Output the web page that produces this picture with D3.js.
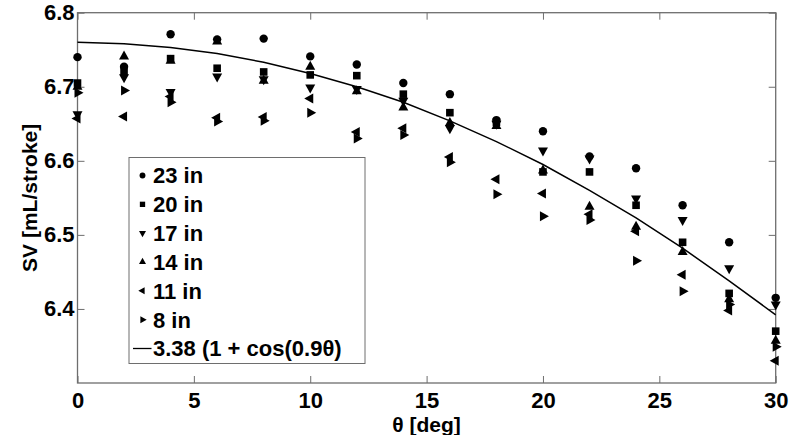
<!DOCTYPE html>
<html>
<head>
<meta charset="utf-8">
<script src="https://cdn.jsdelivr.net/npm/d3@7"></script>
<style>
body { margin: 0; background: #fff; }
text { font-family: "Liberation Sans", Arial, sans-serif; font-weight: bold; }
</style>
</head>
<body>
<div id="chart"></div>
<script>
// angles (deg)
var theta = [0, 2, 4, 6, 8, 10, 12, 14, 16, 18, 20, 22, 24, 26, 28, 30];

// stroke volume per height
var sv23 = [6.740, 6.727, 6.771, 6.764, 6.765, 6.741, 6.730, 6.705, 6.690, 6.655, 6.640, 6.606, 6.590, 6.540, 6.490, 6.415];
var sv20 = [6.705, 6.720, 6.738, 6.725, 6.720, 6.716, 6.715, 6.690, 6.665, 6.652, 6.585, 6.585, 6.540, 6.490, 6.421, 6.370];
var sv17 = [6.663, 6.713, 6.693, 6.714, 6.710, 6.699, 6.697, 6.681, 6.644, 6.650, 6.614, 6.603, 6.549, 6.520, 6.455, 6.406];
var sv14 = [6.700, 6.741, 6.735, 6.761, 6.708, 6.727, 6.694, 6.672, 6.651, 6.647, 6.587, 6.538, 6.511, 6.477, 6.413, 6.357];
var sv11 = [6.657, 6.660, 6.687, 6.658, 6.659, 6.684, 6.639, 6.644, 6.605, 6.575, 6.556, 6.528, 6.505, 6.446, 6.398, 6.330];
var sv8  = [6.692, 6.695, 6.679, 6.653, 6.654, 6.665, 6.630, 6.635, 6.598, 6.555, 6.525, 6.520, 6.465, 6.424, 6.406, 6.349];

// fit curve values at each angle
var fitVals = [6.760, 6.758, 6.753, 6.745, 6.733, 6.718, 6.700, 6.679, 6.654, 6.626, 6.595, 6.560, 6.523, 6.482, 6.438, 6.392];

var xTicks = [0, 5, 10, 15, 20, 25, 30];
var yTicks = [6.4, 6.5, 6.6, 6.7, 6.8];

var seriesNames = ["23 in", "20 in", "17 in", "14 in", "11 in", "8 in"];
var seriesVals = [sv23, sv20, sv17, sv14, sv11, sv8];
var fitLabel = "3.38 (1 + cos(0.9\u03b8)";

var W = 800, H = 435;
var margin = {top: 12.7, right: 24.3, bottom: 52, left: 77.5};
var width = W - margin.left - margin.right,
	height = H - margin.top - margin.bottom;

var svg = d3.select("#chart").append("svg")
	.attr("width", W)
	.attr("height", H);

var g = svg.append("g")
	.attr("transform", "translate(" + margin.left + "," + margin.top + ")");

var x = d3.scaleLinear().domain([0, 30]).range([0, width]);
var y = d3.scaleLinear().domain([6.3, 6.8]).range([height, 0]);

var axisColor = "#6e6e6e";
var fontSize = "22px";

// box
g.append("rect")
	.attr("width", width)
	.attr("height", height)
	.attr("fill", "none")
	.attr("stroke", axisColor)
	.attr("stroke-width", 1.3);

function styleAxis(sel, showText) {
	sel.select(".domain").remove();
	sel.selectAll(".tick line").attr("stroke", axisColor).attr("stroke-width", 1);
	sel.selectAll(".tick text")
		.attr("fill", "#000")
		.style("font-size", fontSize)
		.style("display", showText ? null : "none");
}

g.append("g")
	.attr("transform", "translate(0," + height + ")")
	.call(d3.axisBottom(x).tickValues(xTicks).tickSizeInner(-7).tickSizeOuter(0).tickPadding(9).tickFormat(d3.format("d")))
	.call(styleAxis, true);

g.append("g")
	.call(d3.axisTop(x).tickValues(xTicks).tickSizeInner(-7).tickSizeOuter(0))
	.call(styleAxis, false);

g.append("g")
	.call(d3.axisLeft(y).tickValues(yTicks).tickSizeInner(-7).tickSizeOuter(0).tickPadding(3).tickFormat(d3.format(".1f")))
	.call(styleAxis, true);

g.append("g")
	.attr("transform", "translate(" + width + ",0)")
	.call(d3.axisRight(y).tickValues(yTicks).tickSizeInner(-7).tickSizeOuter(0))
	.call(styleAxis, false);

// axis titles
svg.append("text")
	.attr("x", margin.left + width / 2)
	.attr("y", 432)
	.attr("text-anchor", "middle")
	.style("font-size", "21px")
	.text("\u03b8 [deg]");

svg.append("text")
	.attr("transform", "translate(37," + (margin.top + height / 2) + ") rotate(-90)")
	.attr("text-anchor", "middle")
	.style("font-size", "21px")
	.text("SV [mL/stroke]");

// marker shapes: circle, square, down, up, left, right
function markerPath(i, s) {
	var p = d3.path();
	var h = s * 0.9;
	if (i == 0) {
		p.arc(0, 0, s * 0.42, 0, 2 * Math.PI);
	} else if (i == 1) {
		var a = s * 0.38;
		p.rect(-a, -a, 2 * a, 2 * a);
	} else if (i == 2) {
		p.moveTo(-s / 2, -h / 3); p.lineTo(s / 2, -h / 3); p.lineTo(0, 2 * h / 3); p.closePath();
	} else if (i == 3) {
		p.moveTo(-s / 2, h / 3); p.lineTo(s / 2, h / 3); p.lineTo(0, -2 * h / 3); p.closePath();
	} else if (i == 4) {
		p.moveTo(h / 3, -s / 2); p.lineTo(h / 3, s / 2); p.lineTo(-2 * h / 3, 0); p.closePath();
	} else {
		p.moveTo(-h / 3, -s / 2); p.lineTo(-h / 3, s / 2); p.lineTo(2 * h / 3, 0); p.closePath();
	}
	return p.toString();
}

seriesVals.forEach(function(vals, i) {
	g.append("g").selectAll("path")
		.data(theta)
		.enter().append("path")
		.attr("d", markerPath(i, 10))
		.attr("fill", "#000")
		.attr("transform", function(d, j) {
			return "translate(" + x(d) + "," + y(vals[j]) + ")";
		});
});

var line = d3.line()
	.x(function(d, i) { return x(theta[i]); })
	.y(function(d) { return y(d); });

g.append("path")
	.datum(fitVals)
	.attr("d", line)
	.attr("fill", "none")
	.attr("stroke", "#000")
	.attr("stroke-width", 1.5);

// legend
var lg = svg.append("g").attr("transform", "translate(129,157.5)");
lg.append("rect")
	.attr("width", 236)
	.attr("height", 206)
	.attr("fill", "#fff")
	.attr("stroke", axisColor)
	.attr("stroke-width", 1);

var rowY = d3.scaleLinear().domain([0, 6]).range([18, 191]);

seriesNames.forEach(function(name, i) {
	lg.append("path")
		.attr("d", markerPath(i, 7))
		.attr("fill", "#000")
		.attr("transform", "translate(13.5," + rowY(i) + ")");
	lg.append("text")
		.attr("x", 24)
		.attr("y", rowY(i))
		.attr("dy", "0.36em")
		.style("font-size", fontSize)
		.text(name);
});

lg.append("line")
	.attr("x1", 4).attr("x2", 22.5)
	.attr("y1", rowY(6)).attr("y2", rowY(6))
	.attr("stroke", "#000")
	.attr("stroke-width", 1.3);
lg.append("text")
	.attr("x", 24)
	.attr("y", rowY(6))
	.attr("dy", "0.36em")
	.style("font-size", fontSize)
	.text(fitLabel);
</script>
</body>
</html>
